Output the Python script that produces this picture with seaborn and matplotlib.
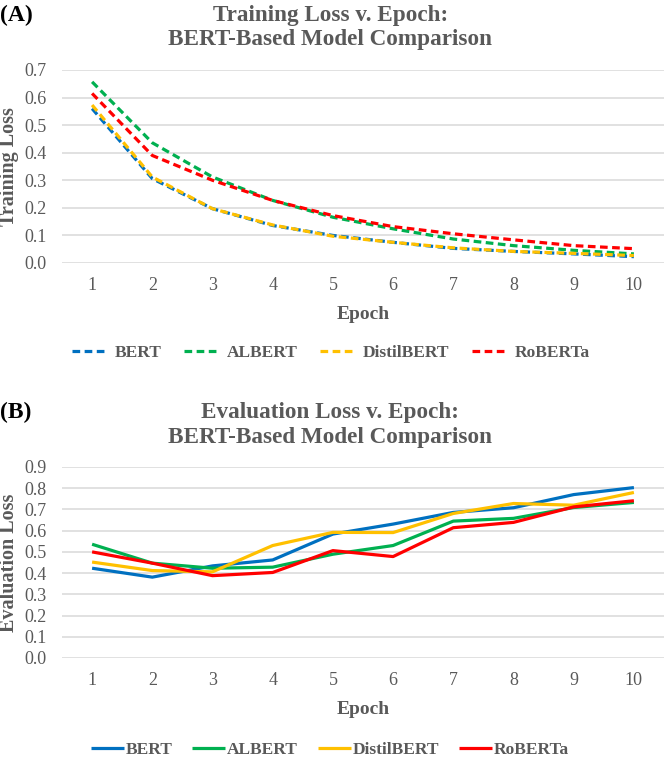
import numpy as np
import pandas as pd
import matplotlib
matplotlib.use("Agg")
import matplotlib.pyplot as plt
import seaborn as sns

epochs = [1, 2, 3, 4, 5, 6, 7, 8, 9, 10]
models = ["BERT", "ALBERT", "DistilBERT", "RoBERTa"]
colors = ["#0070C0", "#00B050", "#FFC000", "#FF0000"]

train_bert = [0.560, 0.306, 0.197, 0.136, 0.100, 0.075, 0.053, 0.042, 0.033, 0.023]
train_albert = [0.657, 0.436, 0.312, 0.227, 0.166, 0.124, 0.087, 0.063, 0.046, 0.033]
train_distil = [0.573, 0.312, 0.197, 0.138, 0.097, 0.075, 0.055, 0.042, 0.035, 0.027]
train_roberta = [0.615, 0.390, 0.300, 0.227, 0.172, 0.132, 0.106, 0.084, 0.063, 0.052]

eval_bert = [0.423, 0.381, 0.434, 0.462, 0.584, 0.631, 0.686, 0.708, 0.770, 0.803]
eval_albert = [0.536, 0.447, 0.423, 0.428, 0.489, 0.530, 0.645, 0.658, 0.709, 0.733]
eval_distil = [0.452, 0.412, 0.406, 0.530, 0.592, 0.591, 0.681, 0.728, 0.720, 0.780]
eval_roberta = [0.500, 0.447, 0.388, 0.403, 0.506, 0.478, 0.614, 0.639, 0.712, 0.741]

train_yticks = [0.0, 0.1, 0.2, 0.3, 0.4, 0.5, 0.6, 0.7]
eval_yticks = [0.0, 0.1, 0.2, 0.3, 0.4, 0.5, 0.6, 0.7, 0.8, 0.9]


def long_form(series, name):
    rows = []
    for model, vals in zip(models, series):
        for e, v in zip(epochs, vals):
            rows.append({"Epoch": e, name: v, "Model": model})
    return pd.DataFrame(rows)


train_df = long_form([train_bert, train_albert, train_distil, train_roberta], "Loss")
eval_df = long_form([eval_bert, eval_albert, eval_distil, eval_roberta], "Loss")

sns.set_theme(style="white")
plt.rcParams["font.family"] = ["Liberation Serif", "DejaVu Serif"]
gray = "#595959"
grid = "#D9D9D9"

W, H = 666, 759
fig = plt.figure(figsize=(W / 100, H / 100), dpi=100)


def px_axes(top, bottom, left=62, right=664):
    return fig.add_axes([left / W, 1 - bottom / H, (right - left) / W, (bottom - top) / H])


ax1 = px_axes(70, 263)
ax2 = px_axes(467, 658)


def draw(ax, df, yticks, ylabel, dashed):
    sns.lineplot(data=df, x="Epoch", y="Loss", hue="Model", hue_order=models,
                 palette=colors, linewidth=2.3, legend=False, ax=ax)
    for line in ax.lines:
        line.set_solid_capstyle("butt")
        if dashed:
            line.set_dashes((2.4, 1.4))
            line.set_dash_capstyle("butt")
    ax.set_xlim(0.5, 10.5)
    ax.set_ylim(yticks[0], yticks[-1])
    ax.set_xticks(epochs)
    ax.set_yticks(yticks)
    ax.set_yticklabels([f"{t:.1f}" for t in yticks])
    ax.grid(axis="y", color=grid, linewidth=1.1)
    ax.grid(axis="x", visible=False)
    for s in ["top", "left", "right", "bottom"]:
        ax.spines[s].set_visible(False)
    ax.tick_params(axis="both", length=0, labelsize=13, labelcolor=gray)
    ax.tick_params(axis="y", pad=11)
    ax.tick_params(axis="x", pad=10)
    ax.set_xlabel("Epoch", fontsize=14, fontweight="bold", color=gray, labelpad=9)
    ax.set_ylabel(ylabel, fontsize=14.5, fontweight="bold", color=gray)
    ax.yaxis.set_label_coords(-43 / 602, 0.5)
    for t in ax.get_yticklabels():
        t.set_clip_on(False)


draw(ax1, train_df, train_yticks, "Training Loss", True)
draw(ax2, eval_df, eval_yticks, "Evaluation Loss", False)

fig.text(0.496, 1 - 15 / H, "Training Loss v. Epoch:", ha="center", va="center",
         fontsize=16.7, fontweight="bold", color=gray)
fig.text(0.496, 1 - 40 / H, "BERT-Based Model Comparison", ha="center", va="center",
         fontsize=16.7, fontweight="bold", color=gray)
fig.text(0.0, 1 - 15 / H, "(A)", ha="left", va="center", fontsize=17, fontweight="bold", color="black")

fig.text(0.496, 1 - 412 / H, "Evaluation Loss v. Epoch:", ha="center", va="center",
         fontsize=16.7, fontweight="bold", color=gray)
fig.text(0.496, 1 - 437 / H, "BERT-Based Model Comparison", ha="center", va="center",
         fontsize=16.7, fontweight="bold", color=gray)
fig.text(0.0, 1 - 412 / H, "(B)", ha="left", va="center", fontsize=17, fontweight="bold", color="black")

leg1 = fig.legend(ax1.lines, models, loc="center", bbox_to_anchor=(0.497, 1 - 353 / H), ncol=4,
                  frameon=False, fontsize=12.5, handlelength=2.0, handletextpad=0.45,
                  columnspacing=1.3, borderaxespad=0)
leg2 = fig.legend(ax2.lines, models, loc="center", bbox_to_anchor=(0.495, 1 - 750 / H), ncol=4,
                  frameon=False, fontsize=12.5, handlelength=1.9, handletextpad=0.1,
                  columnspacing=1.15, borderaxespad=0)
for leg in (leg1, leg2):
    for t in leg.get_texts():
        t.set_color(gray)
        t.set_fontweight("bold")

fig.savefig("out.png", dpi=100)
